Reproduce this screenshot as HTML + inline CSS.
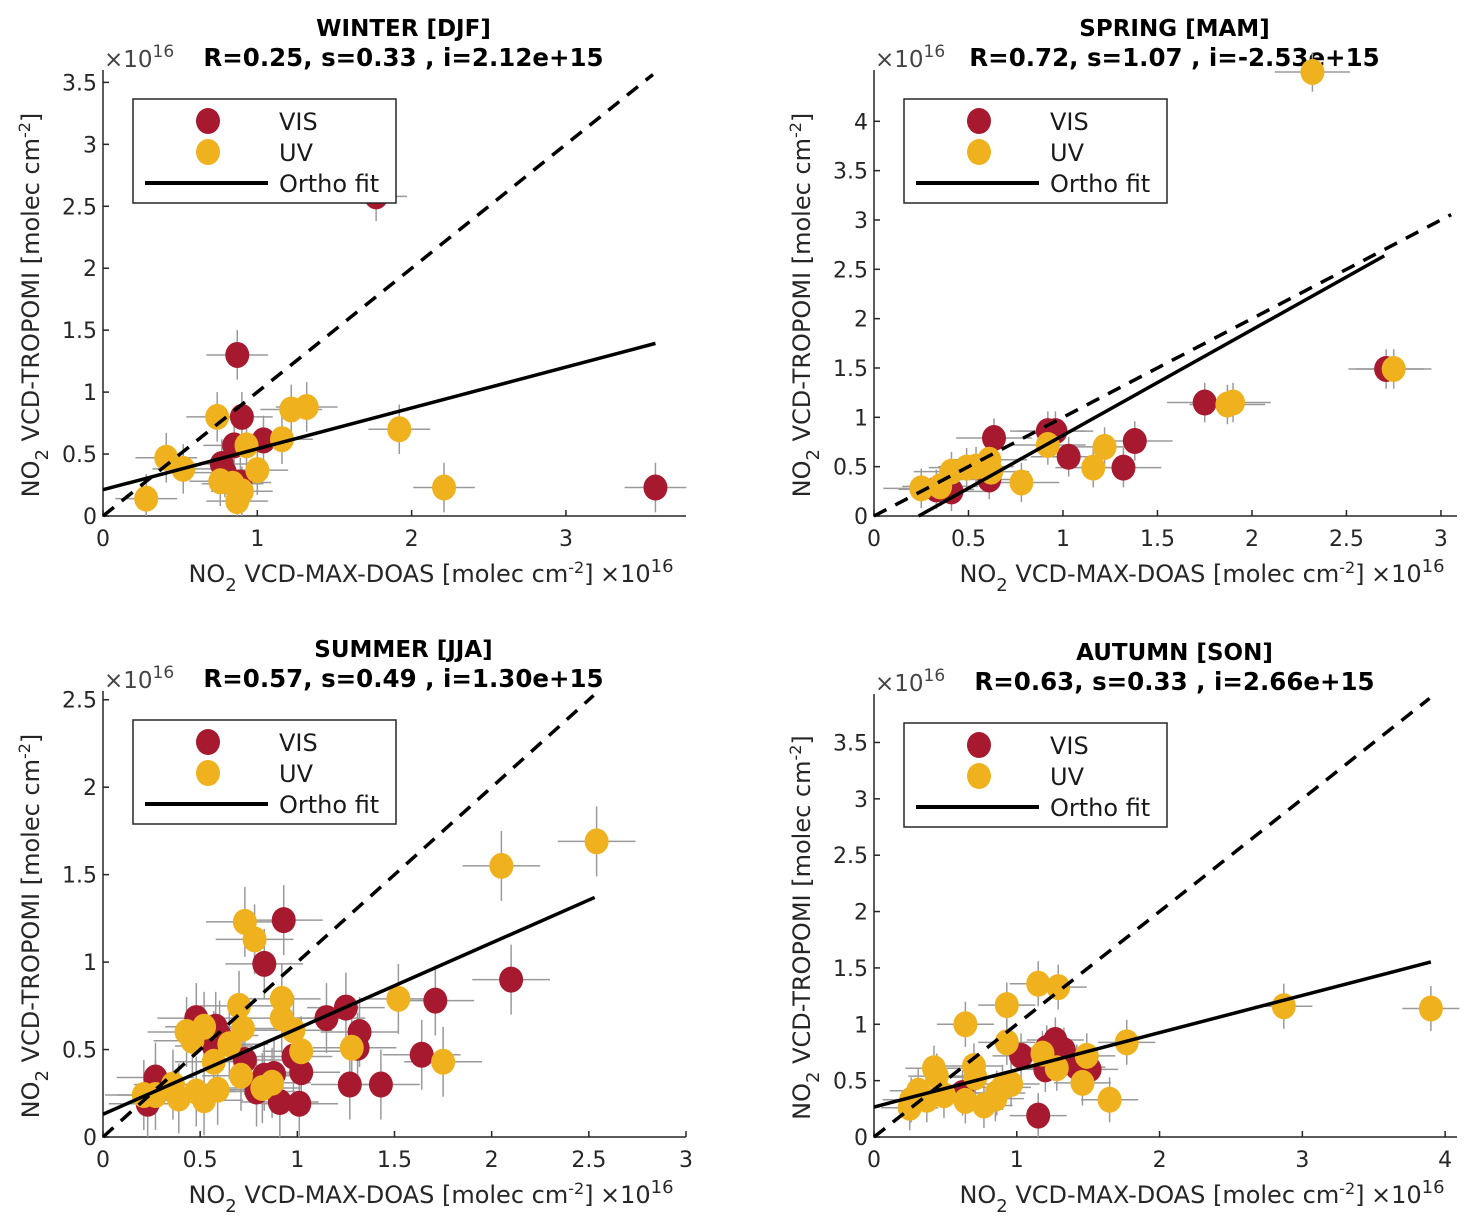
<!DOCTYPE html>
<html><head><meta charset="utf-8">
<style>
html,body{margin:0;padding:0;background:#fff;}
svg{display:block;font-family:"DejaVu Sans","Liberation Sans",sans-serif;}
</style></head>
<body>
<svg id="fig" width="1472" height="1232" viewBox="0 0 1472 1232" xmlns="http://www.w3.org/2000/svg"></svg>
<script>
// ---- data (units of 1e16 molec cm-2) ----
const winterVisX = [0.87,0.90,1.04,0.85,0.77,0.79,0.89,3.58,1.77];
const winterVisY = [1.30,0.80,0.61,0.57,0.42,0.35,0.27,0.23,2.58];
const winterUvX  = [0.74,0.93,1.16,0.41,0.52,0.76,0.84,0.90,0.87,1.00,1.22,1.32,1.92,2.21,0.28];
const winterUvY  = [0.80,0.57,0.62,0.47,0.38,0.28,0.26,0.20,0.12,0.37,0.86,0.88,0.70,0.23,0.14];

const springVisX = [0.635,0.92,0.96,1.03,1.32,1.38,1.75,2.71,0.61,0.41,0.33];
const springVisY = [0.79,0.86,0.86,0.60,0.49,0.76,1.15,1.49,0.37,0.25,0.27];
const springUvX  = [0.25,0.41,0.49,0.61,0.62,0.92,1.22,1.16,0.78,1.87,1.90,2.75,2.32,0.35,0.54];
const springUvY  = [0.28,0.45,0.49,0.57,0.45,0.72,0.70,0.49,0.34,1.13,1.15,1.49,4.50,0.30,0.50];

const summerVisX = [0.93,0.83,1.25,1.15,1.32,2.10,1.71,1.64,1.31,1.27,1.43,1.01,0.91,1.02,0.98,0.83,0.88,0.79,0.73,0.58,0.60,0.48,0.57,0.27,0.23];
const summerVisY = [1.24,0.99,0.74,0.68,0.60,0.90,0.78,0.47,0.51,0.30,0.30,0.19,0.20,0.37,0.46,0.35,0.36,0.26,0.44,0.63,0.58,0.68,0.52,0.34,0.19];
const summerUvX  = [0.73,0.78,1.52,1.75,1.28,1.02,0.98,0.92,0.92,0.70,0.72,0.65,0.57,0.43,0.52,0.46,0.71,0.87,0.82,0.59,0.52,0.48,0.39,0.36,0.27,0.21,2.05,2.54];
const summerUvY  = [1.23,1.13,0.79,0.43,0.51,0.49,0.61,0.68,0.79,0.75,0.62,0.53,0.43,0.60,0.63,0.55,0.35,0.31,0.28,0.27,0.21,0.26,0.22,0.30,0.24,0.24,1.55,1.69];

const autumnVisX = [1.15,1.03,1.21,1.27,1.33,1.42,1.51,1.20,0.62];
const autumnVisY = [0.19,0.72,0.79,0.86,0.77,0.62,0.60,0.60,0.39];
const autumnUvX  = [1.15,1.29,0.93,0.64,1.77,0.93,1.49,1.18,1.28,1.46,1.65,2.87,3.90,0.70,0.71,0.42,0.44,0.31,0.26,0.25,0.37,0.49,0.64,0.77,0.86,0.96,0.90,0.85];
const autumnUvY  = [1.36,1.33,1.17,1.00,0.84,0.84,0.72,0.74,0.61,0.48,0.33,1.16,1.14,0.63,0.53,0.61,0.54,0.41,0.33,0.26,0.33,0.37,0.32,0.28,0.39,0.47,0.44,0.34];

const fitSlope = [0.33,1.07,0.49,0.33];
const fitIntercept = [0.212,-0.253,0.130,0.266];
const fitXMax = [3.58,2.70,2.53,3.90];
const panelTitles = ["WINTER [DJF]","SPRING [MAM]","SUMMER [JJA]","AUTUMN [SON]"];
const panelStats = ["R=0.25, s=0.33 , i=2.12e+15","R=0.72, s=1.07 , i=-2.53e+15","R=0.57, s=0.49 , i=1.30e+15","R=0.63, s=0.33 , i=2.66e+15"];
const xTicks = [[0,1,2,3],[0,0.5,1,1.5,2,2.5,3],[0,0.5,1,1.5,2,2.5,3],[0,1,2,3,4]];
const yTicks = [[0,0.5,1,1.5,2,2.5,3,3.5],[0,0.5,1,1.5,2,2.5,3,3.5,4],[0,0.5,1,1.5,2,2.5],[0,0.5,1,1.5,2,2.5,3,3.5]];
const xMaxes = [3.778,3.085,3.0,4.083];
const yMaxes = [3.6,4.52,2.55,3.93];
const errX = 0.2, errY = 0.2;

const svg = document.getElementById('fig');
const NS = 'http://www.w3.org/2000/svg';
function mk(tag, attrs, parent){
  const e = document.createElementNS(NS, tag);
  for (const k in attrs) e.setAttribute(k, attrs[k]);
  (parent||svg).appendChild(e);
  return e;
}
const VIS = '#a6192e', UV = '#efb21e';
const boxes = [
  {l:103,r:686,b:516,t:70},
  {l:874,r:1457,b:516,t:70},
  {l:103,r:686,b:1137,t:691},
  {l:874,r:1457,b:1137,t:694}
];
const sets = [
  [winterVisX,winterVisY,winterUvX,winterUvY],
  [springVisX,springVisY,springUvX,springUvY],
  [summerVisX,summerVisY,summerUvX,summerUvY],
  [autumnVisX,autumnVisY,autumnUvX,autumnUvY]
];
const fmt = v => String(v);

for (let p=0;p<4;p++){
  const B = boxes[p];
  const g = mk('g',{});
  
  
  const sx = v => B.l + v/xMaxes[p]*(B.r-B.l);
  const sy = v => B.b - v/yMaxes[p]*(B.b-B.t);
  const cx = (B.l+B.r)/2;
  const t1 = mk('text',{x:cx+9,y:B.t-34,'text-anchor':'middle','font-size':23,'font-weight':'bold'},g);
  t1.textContent = panelTitles[p];
  
  
  const t2 = mk('text',{x:cx+9,y:B.t-4,'text-anchor':'middle','font-size':24.5,'font-weight':'bold'},g);
  t2.textContent = panelStats[p];
  
  
  const ye = mk('text',{x:B.l+1,y:B.t-3,'font-size':23,fill:'#444'},g);
  ye.innerHTML = '×10<tspan dy="-10" font-size="17">16</tspan>';
  
  
  const ax = mk('path',{d:`M${B.l},${B.t} V${B.b} H${B.r}`,fill:'none',stroke:'#262626','stroke-width':1.5},g);
  
  
  xTicks[p].forEach(v=>{
    const x = sx(v);
    mk('line',{x1:x,x2:x,y1:B.b,y2:B.b-6,stroke:'#262626','stroke-width':1.5},g);
    const tl = mk('text',{x:x,y:B.b+30,'text-anchor':'middle','font-size':22,fill:'#262626'},g);
    tl.textContent = fmt(v);
    
    
  });
  yTicks[p].forEach(v=>{
    const y = sy(v);
    mk('line',{x1:B.l,x2:B.l+6,y1:y,y2:y,stroke:'#262626','stroke-width':1.5},g);
    const tl = mk('text',{x:B.l-6,y:y+8,'text-anchor':'end','font-size':22,fill:'#262626'},g);
    tl.textContent = fmt(v);
    
    
  });
  const xl = mk('text',{x:B.l+288,y:B.b+66,'text-anchor':'middle','font-size':24,fill:'#262626'},g);
  xl.innerHTML = 'NO<tspan dy="9" font-size="18">2</tspan><tspan dy="-9"> VCD-MAX-DOAS [molec cm</tspan><tspan dy="-9" font-size="16">-2</tspan><tspan dy="9">]</tspan>';
  
  
  const xe = mk('text',{x:B.l+497,y:B.b+66,'font-size':24,fill:'#262626'},g);
  xe.innerHTML = '×10<tspan dy="-10" font-size="18">16</tspan>';
  
  
  const yl = mk('text',{x:0,y:0,'text-anchor':'middle','font-size':24,fill:'#262626',transform:`translate(${B.l-64},${(B.t+B.b)/2+12}) rotate(-90)`},g);
  yl.innerHTML = 'NO<tspan dy="9" font-size="18">2</tspan><tspan dy="-9"> VCD-TROPOMI [molec cm</tspan><tspan dy="-9" font-size="16">-2</tspan><tspan dy="9">]</tspan>';
  
  
  const [vx,vy,ux,uy] = sets[p];
  const drawErr = (X,Y)=>{
    for (let i=0;i<X.length;i++){
      const x=sx(X[i]), y=sy(Y[i]);
      const e1 = mk('line',{x1:sx(Math.max(0,X[i]-errX)),x2:sx(X[i]+errX),y1:y,y2:y,stroke:'#9a9a9a','stroke-width':1.5},g);
      
      
      const e2 = mk('line',{x1:x,x2:x,y1:sy(Math.max(0,Y[i]-errY)),y2:sy(Y[i]+errY),stroke:'#9a9a9a','stroke-width':1.5},g);
      
      
    }
  };
  drawErr(vx,vy); drawErr(ux,uy);
  const drawPts = (X,Y,col,name)=>{
    for (let i=0;i<X.length;i++){
      const c = mk('ellipse',{cx:sx(X[i]),cy:sy(Y[i]),rx:12,ry:13,fill:col},g);
      
      
    }
  };
  drawPts(vx,vy,VIS,'vis-point');
  drawPts(ux,uy,UV,'uv-point');
  const m1 = Math.min(xMaxes[p],yMaxes[p])*0.99;
  const d = mk('line',{x1:sx(0),y1:sy(0),x2:sx(m1),y2:sy(m1),stroke:'#000','stroke-width':3.5,'stroke-dasharray':'14,10'},g);
  
  
  let x0 = 0;
  if (fitIntercept[p] < 0) x0 = -fitIntercept[p]/fitSlope[p];
  const f = mk('line',{x1:sx(x0),y1:sy(fitSlope[p]*x0+fitIntercept[p]),x2:sx(fitXMax[p]),y2:sy(fitSlope[p]*fitXMax[p]+fitIntercept[p]),stroke:'#000','stroke-width':3.5},g);
  
  
  const L = mk('g',{},g);
  
  
  const lx = B.l+30, ly = B.t+29;
  mk('rect',{x:lx,y:ly,width:263,height:104,fill:'#fff',stroke:'#262626','stroke-width':1.5},L);
  const lv = mk('ellipse',{cx:lx+75,cy:ly+22,rx:12,ry:13,fill:VIS},L);
  
  
  const lu = mk('ellipse',{cx:lx+75,cy:ly+53,rx:12,ry:13,fill:UV},L);
  
  
  mk('line',{x1:lx+12,x2:lx+135,y1:ly+84,y2:ly+84,stroke:'#000','stroke-width':4},L);
  [['VIS',31],['UV',62],['Ortho fit',93]].forEach(([s,dy])=>{
    const tt = mk('text',{x:lx+146,y:ly+dy,'font-size':24,fill:'#1a1a1a'},L);
    tt.textContent = s;
    
    
  });
}
</script>
</body></html>
